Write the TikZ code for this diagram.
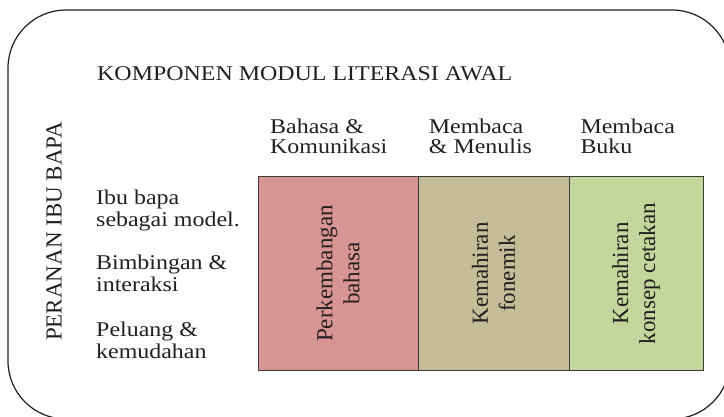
\documentclass[tikz,border=0pt]{standalone}
\usepackage{fontspec}
\setmainfont{Liberation Serif}
\newfontfamily\hfont{Liberation Serif}[FakeStretch=1.14]
\definecolor{pinkc}{HTML}{D99594}
\definecolor{tanc}{HTML}{C4BD97}
\definecolor{greenc}{HTML}{C3D69B}
\definecolor{inkc}{HTML}{231F20}
\definecolor{edgec}{HTML}{3A3A3A}
\begin{document}
\begin{tikzpicture}[x=1pt,y=-1pt,
  htext/.style={anchor=base west, inner sep=0pt, text=inkc, font=\hfont\fontsize{21}{20}\selectfont},
  vtext/.style={rotate=90, inner sep=0pt, align=center, text=inkc, font=\fontsize{23}{27}\selectfont},
  colbox/.style={draw=edgec, line width=1pt, anchor=north west, inner sep=0pt, outer sep=0pt, minimum height=193pt}]
\useasboundingbox (0,0) rectangle (724,417);
\clip (0,0) rectangle (724,417);
\draw[line width=1.2pt, draw=inkc, rounded corners=58pt] (8,10) rectangle (730,419);
% title
\node[htext] (title) at (97,81) {KOMPONEN MODUL LITERASI AWAL};
% side label
\node[rotate=90, anchor=base, inner sep=0pt, text=inkc, font=\fontsize{23}{27}\selectfont] (peranan) at (61.7,231.5) {PERANAN IBU BAPA};
% column headers
\node[htext] (h1a) at (270,133.3) {Bahasa \&};
\node[htext] (h1b) at (270,153.3) {Komunikasi};
\node[htext] (h2a) at (428.7,133.3) {Membaca};
\node[htext] (h2b) at (428.7,153.3) {\& Menulis};
\node[htext] (h3a) at (580.3,133.3) {Membaca};
\node[htext] (h3b) at (580.3,153.3) {Buku};
% role list
\node[htext] (r1a) at (96,205) {Ibu bapa};
\node[htext] (r1b) at (96,227) {sebagai model.};
\node[htext] (r2a) at (96,270) {Bimbingan \&};
\node[htext] (r2b) at (96,292) {interaksi};
\node[htext] (r3a) at (96,337) {Peluang \&};
\node[htext] (r3b) at (96,359) {kemudahan};
% boxes
\node[colbox, fill=pinkc, minimum width=160pt] (b1) at (258,177) {};
\node[colbox, fill=tanc, minimum width=151pt] (b2) at (418,177) {};
\node[colbox, fill=greenc, minimum width=134pt] (b3) at (569,177) {};
\node[vtext] (t1) at (b1.center) {Perkembangan\\bahasa};
\node[vtext] (t2) at (b2.center) {Kemahiran\\fonemik};
\node[vtext] (t3) at (b3.center) {Kemahiran\\konsep cetakan};
\end{tikzpicture}
\end{document}
